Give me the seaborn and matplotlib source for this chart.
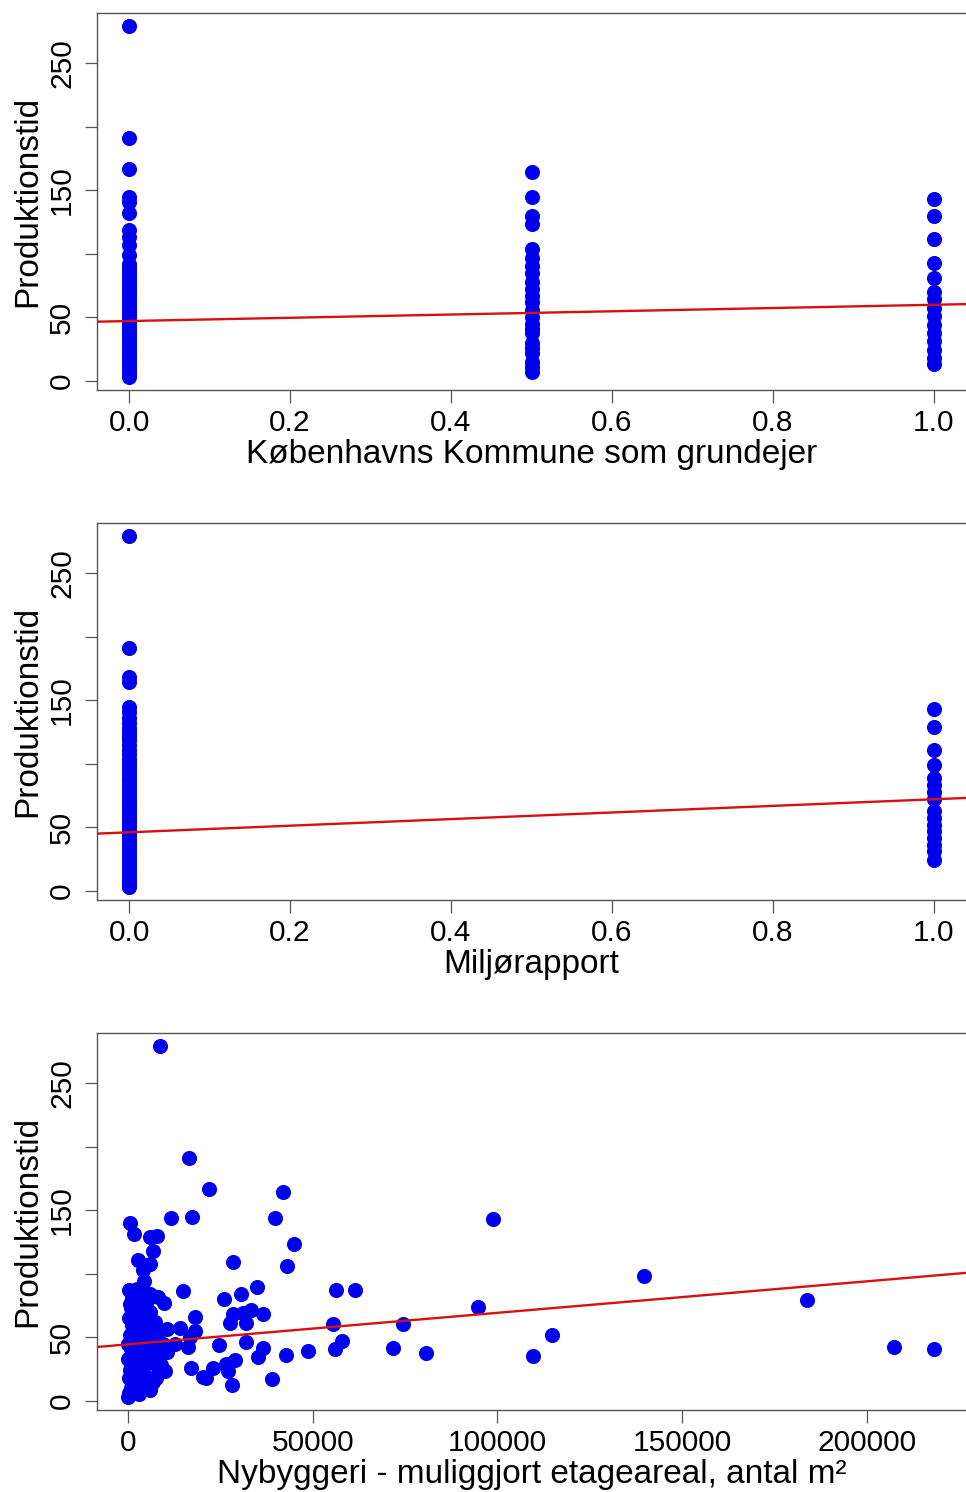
import numpy as np
import pandas as pd
import matplotlib
matplotlib.use("Agg")
import matplotlib.pyplot as plt
import seaborn as sns

# ---------------- data ----------------
# Panel 1: Københavns Kommune som grundejer (0 / 0.5 / 1)
kk_y_0 = [279, 191, 167, 145, 141, 132, 119, 113, 107, 99, 92, 89, 86, 83, 80,
          77, 74, 71, 68, 65, 62, 59, 56, 53, 50, 47, 44, 41, 38, 35, 32, 29,
          26, 23, 20, 17, 14, 11, 8, 5, 3]
kk_y_05 = [164, 144.5, 130, 123, 104, 96.5, 90, 85, 78, 72, 67, 62, 56, 50, 45,
           41, 37.5, 30, 26, 22, 15, 11, 7]
kk_y_1 = [143, 130, 111.5, 92.6, 81, 70, 64, 57, 51, 44, 37.5, 31, 24, 18, 13]
kk_intercept, kk_slope = 47.0, 12.8

# Panel 2: Miljørapport (0 / 1)
mr_y_0 = [279, 191, 168, 164, 145, 141, 136, 132, 128, 125, 122, 119, 115, 111,
          108, 104, 101, 98, 95, 92, 89, 86, 83, 80, 77, 74, 71, 68, 65, 62, 59,
          56, 53, 50, 47, 44, 41, 38, 35, 32, 29, 26, 23, 20, 17, 14, 11, 8, 5, 3]
mr_y_1 = [143, 129, 111, 98.6, 88.6, 83.4, 78, 72, 62.4, 57, 52, 46.7, 41.4, 36,
          31, 24.4]
mr_intercept, mr_slope = 46.0, 26.0

# Panel 3: Nybyggeri - muliggjort etageareal (m²)
ny_x = [8660, 16600, 22000, 42040, 11700, 17240, 39880, 98840, 540, 1710, 5950,
        7770, 6860, 44940, 28400, 42950, 2700, 5950, 4150, 4300, 270, 14800,
        8100, 9800, 5060, 26000, 30700, 35000, 56260, 61350, 139600, 94830,
        183800, 18180, 28510, 31000, 33200, 36550, 27610, 32000, 55580, 74560,
        10480, 14080, 18140, 16780, 12800, 16100, 24720, 31940, 36550, 35050,
        58060, 55900, 48590, 42720, 71820, 80670, 109700, 114860, 207400,
        218300, 17000, 21200, 23100, 26400, 28970, 27160, 28060, 38890, 10020,
        5950, 20380,
        0, 300, 800, 1500, 200, 2500, 600, 3500, 1200, 100, 4500, 2000, 700,
        3000, 5500, 1500, 400, 2500, 6500, 1000, 3500, 200, 4800, 2000, 800,
        5000, 3000, 1200, 6000, 100, 1800, 4000, 3000, 5500, 6500, 7500, 8200,
        8000, 6800, 2300, 500, 3800, 2800, 1000, 4200, 7200, 6000, 8500, 9500,
        10500, 9000, 7500]
ny_y = [279, 191, 167, 164, 144, 144.5, 143.7, 143, 140, 131, 128.7, 130, 118,
        123, 109.5, 105.8, 111, 107.7, 103, 94, 87, 86, 81.5, 77, 79, 80.4, 84,
        89.8, 87.5, 87.5, 98.5, 74, 79.6, 66.3, 68.3, 69, 71.2, 68.3, 61.2,
        61.5, 60.2, 60.4, 56.5, 57.3, 55.2, 49.9, 44.7, 42, 44, 45.9, 41.7,
        34.1, 47, 40.7, 39.4, 36.2, 41.5, 37.3, 35.5, 51.8, 42.6, 40.4, 25.6,
        18.1, 25.4, 28.9, 32.1, 23.6, 12.5, 17.1, 23.6, 8.6, 18.4,
        3, 6, 10, 14, 18, 20, 24, 26, 29, 33, 35, 38, 41, 44, 46, 49, 52, 55,
        57, 60, 62, 65, 67, 70, 73, 75, 78, 82, 84, 45, 8, 12, 5, 30, 40, 50,
        35, 22, 15, 88, 76, 52, 31, 38, 20, 62, 70, 55, 45, 38, 28, 18]
ny_intercept, ny_slope = 44.4, 2.48e-4

y_label = "Produktionstid"
x_labels = ["Københavns Kommune som grundejer", "Miljørapport",
            "Nybyggeri - muliggjort etageareal, antal m²"]
y_ticks = [0, 50, 100, 150, 200, 250]
y_ticklabels = ["0", "50", "", "150", "", "250"]
x_ticks_frac = [0.0, 0.2, 0.4, 0.6, 0.8, 1.0]
x_ticklabels_frac = ["0.0", "0.2", "0.4", "0.6", "0.8", "1.0"]
x_ticks_area = [0, 50000, 100000, 150000, 200000]
x_ticklabels_area = ["0", "50000", "100000", "150000", "200000"]

# ---------------- styling ----------------
sns.set_style("white")
plt.rcParams["font.family"] = ["Liberation Sans", "DejaVu Sans"]
plt.rcParams["text.color"] = "black"
plt.rcParams["axes.labelcolor"] = "black"

POINT = "#0000EE"
LINE = "#D81010"
SPINE = "#555555"

df1 = pd.DataFrame({"x": [0.0] * len(kk_y_0) + [0.5] * len(kk_y_05) + [1.0] * len(kk_y_1),
                    "y": kk_y_0 + kk_y_05 + kk_y_1})
df2 = pd.DataFrame({"x": [0.0] * len(mr_y_0) + [1.0] * len(mr_y_1),
                    "y": mr_y_0 + mr_y_1})
df3 = pd.DataFrame({"x": ny_x, "y": ny_y})

fig = plt.figure(figsize=(9.66, 14.92), dpi=100)
W, H = 966, 1492
left = 97 / W
width = 1 - left
height = 377 / H
bottoms = [1 - 390 / H, 1 - 900 / H, 1 - 1410 / H]

panels = [
    (df1, kk_intercept, kk_slope, (-0.04, 1.04), x_ticks_frac, x_ticklabels_frac),
    (df2, mr_intercept, mr_slope, (-0.04, 1.04), x_ticks_frac, x_ticklabels_frac),
    (df3, ny_intercept, ny_slope, (-8400, 226850), x_ticks_area, x_ticklabels_area),
]

for i, (df, b0, b1, xlim, xt, xtl) in enumerate(panels):
    ax = fig.add_axes([left, bottoms[i], width, height])
    sns.scatterplot(data=df, x="x", y="y", ax=ax, color=POINT, s=118,
                    linewidth=0, alpha=1, zorder=3)
    ax.axline((0, b0), slope=b1, color=LINE, lw=1.7, zorder=4)
    ax.set_xlim(*xlim)
    ax.set_ylim(-7.3, 289.5)
    ax.set_xticks(xt)
    ax.set_xticklabels(xtl)
    ax.set_yticks(y_ticks)
    ax.set_yticklabels(y_ticklabels)
    ax.tick_params(axis="both", direction="out", length=9, width=0.9,
                   color=SPINE, labelsize=21.5, labelcolor="black",
                   bottom=True, left=True)
    ax.tick_params(axis="x", pad=5)
    ax.tick_params(axis="y", pad=6, labelrotation=90)
    for lbl in ax.get_yticklabels():
        lbl.set_va("center")
    for side in ["top", "left", "bottom"]:
        ax.spines[side].set_color(SPINE)
        ax.spines[side].set_linewidth(1.0)
    ax.spines["right"].set_visible(False)
    ax.set_xlabel(x_labels[i], fontsize=24, color="black")
    ax.set_ylabel(y_label, fontsize=24, color="black")
    ax.xaxis.set_label_coords(0.5, -65 / 377)
    ax.xaxis.label.set_va("center")
    ax.yaxis.set_label_coords(-69 / 869, 0.5)
    ax.yaxis.label.set_va("center")

fig.savefig("out.png", dpi=100)
